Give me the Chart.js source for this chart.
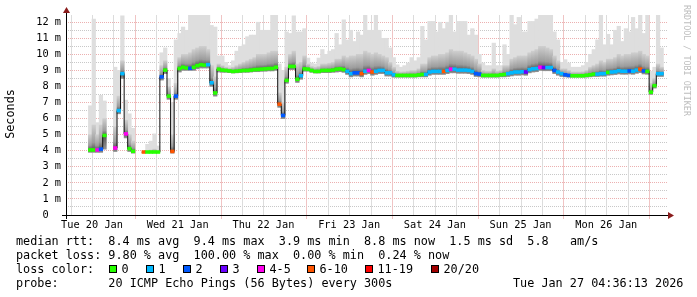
<!DOCTYPE html>
<html>
<head>
<meta charset="utf-8">
<script src="https://cdn.jsdelivr.net/npm/chart.js@4/dist/chart.umd.min.js"></script>
<style>
  html, body { margin: 0; padding: 0; background: #fff; }
  canvas { display: block; }
</style>
</head>
<body>
<canvas id="ping" width="697" height="297"></canvas>
<script>
// hourly slots, counted in hours after Tue 20 Jan 00:00
const firstHour = 11;
const viewStart = 5, viewEnd = 173;

const dayLabels = ['Tue 20 Jan', 'Wed 21 Jan', 'Thu 22 Jan', 'Fri 23 Jan', 'Sat 24 Jan', 'Sun 25 Jan', 'Mon 26 Jan'];
const yTickVals = [0, 1, 2, 3, 4, 5, 6, 7, 8, 9, 10, 11, 12];
const xGridHours = [6, 12, 18, 24, 30, 36, 42, 48, 54, 60, 66, 72, 78, 84, 90, 96, 102, 108, 114, 120, 126, 132, 138, 144, 150, 156, 162, 168];

const lossLabels = ['0', '1', '2', '3', '4-5', '6-10', '11-19', '20/20'];
const lossColors = ['#26ff00', '#00b8ff', '#0059ff', '#6a00ff', '#ff00ee', '#ff5500', '#ff0000', '#a10000'];

// median rtt per hour (ms)
const medianMs = [
  4.05, 4.05, 4.05, 4.10, 4.95, null, null, 4.17, 6.50, 8.80,
  5.05, 4.13, 3.97, null, null, 3.92, 3.92, 3.92, 3.92, 3.92,
  8.60, 9.02, 7.40, 3.96, 7.40, 9.12, 9.20, 9.15, 9.13, 9.20,
  9.30, 9.36, 9.33, 9.36, 8.23, 7.60, 9.08, 9.02, 9.00, 8.97,
  8.94, 8.96, 8.98, 9.00, 9.00, 9.02, 9.05, 9.06, 9.08, 9.10,
  9.12, 9.12, 9.20, 6.90, 6.20, 8.38, 9.25, 9.25, 8.45, 8.67,
  9.10, 9.08, 9.00, 8.94, 8.94, 9.00, 9.00, 9.00, 9.02, 9.08,
  9.10, 9.05, 8.94, 8.80, 8.85, 8.85, 8.80, 8.95, 9.00, 8.90,
  8.95, 9.00, 9.00, 8.85, 8.85, 8.73, 8.69, 8.69, 8.69, 8.69,
  8.69, 8.69, 8.72, 8.75, 8.75, 8.90, 8.94, 8.94, 8.94, 8.94,
  9.00, 9.08, 9.08, 9.02, 9.02, 9.02, 9.00, 8.94, 8.80, 8.77,
  8.69, 8.69, 8.69, 8.69, 8.69, 8.73, 8.75, 8.80, 8.85, 8.90,
  8.90, 8.92, 8.90, 9.05, 9.10, 9.12, 9.20, 9.18, 9.18, 9.18,
  9.00, 8.90, 8.80, 8.73, 8.69, 8.67, 8.67, 8.67, 8.67, 8.70,
  8.73, 8.77, 8.77, 8.80, 8.80, 8.88, 8.90, 8.92, 8.98, 8.95,
  8.95, 8.97, 8.95, 9.02, 9.08, 8.97, 8.94, 7.65, 8.05, 8.80,
  8.80
];

// loss bucket per hour (index into lossLabels)
const lossBucket = [
  0, 0, 4, 2, 0, 0, 0, 4, 1, 1,
  4, 0, 0, 0, 0, 5, 0, 0, 0, 0,
  2, 0, 0, 5, 2, 0, 0, 0, 2, 0,
  0, 0, 0, 1, 1, 0, 0, 0, 0, 0,
  0, 0, 0, 0, 0, 0, 0, 0, 0, 0,
  0, 0, 0, 5, 2, 0, 0, 0, 0, 1,
  0, 0, 0, 0, 0, 0, 0, 0, 0, 0,
  0, 0, 1, 1, 2, 2, 5, 1, 4, 5,
  1, 1, 1, 1, 1, 1, 0, 0, 0, 0,
  0, 0, 0, 0, 1, 1, 1, 1, 1, 5,
  1, 4, 1, 1, 1, 1, 1, 1, 2, 2,
  0, 0, 0, 0, 0, 0, 0, 1, 1, 1,
  1, 1, 3, 1, 1, 1, 4, 3, 1, 1,
  2, 1, 1, 2, 2, 0, 0, 0, 0, 0,
  0, 0, 1, 1, 1, 0, 1, 1, 1, 1,
  1, 2, 1, 1, 5, 2, 0, 0, 0, 1,
  1
];

// slowest ping per hour (ms)
const smokeTop = [
  6.80, 12.20, 5.75, 7.45, 7.10, null, null, 9.20, 9.00, 12.40,
  7.15, 6.30, 5.40, null, null, 3.97, 4.40, 4.60, 5.05, 4.30,
  10.10, 10.40, 8.50, 7.00, 10.90, 11.30, 11.70, 11.50, 12.50, 12.50,
  12.50, 12.50, 12.50, 12.50, 11.80, 11.70, 9.90, 9.90, 9.50, 9.30,
  9.60, 10.20, 10.50, 10.60, 11.10, 11.20, 11.20, 12.00, 11.50, 11.50,
  11.50, 12.47, 12.47, 9.40, 9.00, 11.40, 11.30, 12.40, 11.40, 11.40,
  11.60, 9.77, 9.46, 9.40, 9.77, 10.30, 10.00, 10.20, 10.30, 11.30,
  10.60, 12.15, 10.90, 11.50, 10.80, 11.40, 11.20, 12.47, 11.50, 11.50,
  12.47, 11.50, 11.00, 11.00, 10.40, 9.80, 9.35, 9.20, 9.30, 9.46,
  9.80, 9.60, 9.80, 11.74, 10.90, 12.05, 12.05, 11.40, 12.00, 11.60,
  12.00, 12.47, 11.40, 12.05, 12.05, 12.05, 11.20, 11.60, 11.20, 10.00,
  9.46, 9.30, 9.30, 10.70, 9.30, 9.30, 10.60, 10.00, 12.47, 11.85,
  12.30, 11.40, 11.40, 12.05, 12.05, 12.20, 12.47, 12.47, 12.47, 12.47,
  11.40, 10.90, 9.50, 9.67, 9.46, 9.20, 9.20, 9.20, 9.30, 9.50,
  10.00, 10.30, 10.90, 12.47, 10.60, 11.25, 10.60, 11.50, 11.75, 10.80,
  11.60, 11.40, 12.30, 11.60, 12.45, 11.30, 12.47, 8.95, 9.20, 12.47,
  10.40
];

// upper edge of the dense part of the smoke (ms)
const smokeUp = [
  5.00, 5.60, 5.00, 5.60, 6.00, null, null, 5.50, 7.40, 9.60,
  5.90, 5.00, 4.60, null, null, 3.95, 4.00, 4.05, 4.10, 4.00,
  9.30, 9.60, 8.00, 5.00, 8.20, 9.80, 10.00, 10.00, 10.10, 10.30,
  10.40, 10.50, 10.50, 10.30, 9.30, 8.60, 9.40, 9.30, 9.20, 9.15,
  9.20, 9.30, 9.40, 9.50, 9.60, 9.70, 9.80, 10.00, 10.00, 10.00,
  10.10, 10.20, 10.20, 7.60, 7.00, 9.20, 10.00, 10.20, 9.40, 9.50,
  9.90, 9.40, 9.25, 9.20, 9.25, 9.40, 9.40, 9.45, 9.50, 9.70,
  9.70, 9.90, 9.80, 9.90, 9.90, 10.00, 10.00, 10.20, 10.10, 10.00,
  10.10, 10.00, 9.90, 9.80, 9.50, 9.20, 8.95, 8.90, 8.92, 8.95,
  9.00, 9.00, 9.10, 9.40, 9.40, 9.80, 9.90, 9.90, 10.00, 10.00,
  10.10, 10.30, 10.20, 10.20, 10.20, 10.10, 10.00, 9.90, 9.70, 9.40,
  9.00, 8.95, 8.95, 9.10, 8.95, 9.00, 9.30, 9.30, 9.70, 9.80,
  9.90, 9.90, 9.90, 10.10, 10.20, 10.30, 10.50, 10.50, 10.40, 10.30,
  9.90, 9.60, 9.10, 9.10, 9.00, 8.90, 8.90, 8.90, 8.92, 9.00,
  9.20, 9.30, 9.40, 9.60, 9.50, 9.70, 9.70, 9.80, 10.00, 9.90,
  10.00, 10.00, 10.10, 10.10, 10.20, 10.00, 9.90, 8.20, 8.50, 9.40,
  9.20
];

// fastest ping per hour (ms)
const smokeLow = [
  3.90, 3.90, 3.90, 3.90, 4.10, null, null, 3.95, 6.30, 8.50,
  4.80, 3.95, 3.85, null, null, 3.88, 3.88, 3.88, 3.88, 3.88,
  8.40, 8.80, 7.20, 3.85, 7.20, 8.90, 9.00, 9.00, 9.00, 9.00,
  9.10, 9.15, 9.15, 9.15, 8.00, 7.40, 8.90, 8.88, 8.88, 8.86,
  8.84, 8.85, 8.86, 8.88, 8.88, 8.90, 8.92, 8.92, 8.94, 8.95,
  8.97, 8.97, 9.00, 6.70, 6.00, 8.20, 9.05, 9.05, 8.25, 8.45,
  8.95, 8.95, 8.88, 8.84, 8.84, 8.86, 8.86, 8.86, 8.88, 8.90,
  8.92, 8.88, 8.75, 8.60, 8.65, 8.65, 8.60, 8.75, 8.80, 8.70,
  8.75, 8.80, 8.80, 8.65, 8.65, 8.58, 8.58, 8.58, 8.58, 8.58,
  8.58, 8.58, 8.60, 8.60, 8.60, 8.70, 8.75, 8.75, 8.75, 8.75,
  8.80, 8.85, 8.85, 8.82, 8.82, 8.82, 8.80, 8.75, 8.62, 8.60,
  8.58, 8.58, 8.58, 8.58, 8.58, 8.60, 8.60, 8.62, 8.66, 8.70,
  8.70, 8.72, 8.70, 8.85, 8.90, 8.92, 9.00, 8.98, 8.98, 8.98,
  8.80, 8.70, 8.62, 8.60, 8.58, 8.58, 8.58, 8.58, 8.58, 8.58,
  8.60, 8.62, 8.62, 8.64, 8.64, 8.70, 8.72, 8.74, 8.78, 8.76,
  8.76, 8.78, 8.76, 8.82, 8.86, 8.78, 8.76, 7.50, 7.90, 8.62,
  8.62
];

const statRows = [
  'median rtt:  8.4 ms avg  9.4 ms max  3.9 ms min  8.8 ms now  1.5 ms sd  5.8   am/s',
  'packet loss: 9.80 % avg  100.00 % max  0.00 % min  0.24 % now'
];
const probeText = 'probe:       20 ICMP Echo Pings (56 Bytes) every 300s';
const stampText = 'Tue Jan 27 04:36:13 2026';

const MONO = '"DejaVu Sans Mono", monospace';
const GRID_RED = 'rgb(236,176,176)';
const GRID_GRAY = 'rgb(200,200,200)';
const VGRID_RED = 'rgb(240,196,196)';
const VGRID_GRAY = 'rgb(220,220,220)';

// slots that have data
const slots = medianMs.map((m, i) => ({ i, x: firstHour + i + 0.5 })).filter(s => medianMs[s.i] != null);

function coreFill(c) {
  const y = c.chart.scales && c.chart.scales.y;
  if (c.type !== 'data' || !c.raw || !y) return '#999';
  const k = c.raw.i;
  const pLow = y.getPixelForValue(smokeLow[k]);
  const pUp = y.getPixelForValue(smokeUp[k]);
  const pMed = y.getPixelForValue(medianMs[k]);
  if (![pLow, pUp, pMed].every(Number.isFinite)) return '#999';
  if (pLow - pUp < 1) return '#6e6e6e';
  const g = c.chart.ctx.createLinearGradient(0, pLow, 0, pUp);
  const t = Math.min(Math.max((pLow - pMed) / (pLow - pUp), 0), 1);
  g.addColorStop(0, '#939393');
  g.addColorStop(t, '#555555');
  g.addColorStop(t + (1 - t) * 0.3, '#9c9c9c');
  g.addColorStop(1, '#cecece');
  return g;
}

const barBase = { type: 'bar', grouped: false, barPercentage: 1, categoryPercentage: 1, borderWidth: 0 };

const isMidnight = h => h % 24 === 0;

const rrdFrame = {
  id: 'rrdFrame',
  beforeDatasetsDraw(chart) {
    const { ctx, chartArea: a, scales } = chart;
    ctx.save();
    // horizontal grid: every half ms, integer lines reddish, dotted
    for (let v = 0.5; v <= 12.01; v += 0.5) {
      const py = Math.floor(scales.y.getPixelForValue(v));
      ctx.fillStyle = Math.abs(v - Math.round(v)) < 0.01 ? GRID_RED : GRID_GRAY;
      for (let x = Math.ceil(a.left) + 1; x < a.right; x += 2) ctx.fillRect(x, py, 1, 1);
    }
    // vertical grid: every 6 hours, midnights reddish
    xGridHours.forEach(h => {
      const px = Math.round(scales.x.getPixelForValue(h));
      ctx.fillStyle = isMidnight(h) ? VGRID_RED : VGRID_GRAY;
      const yEnd = isMidnight(h) ? 219 : a.bottom;
      ctx.fillRect(px, Math.ceil(a.top), 1, yEnd - Math.ceil(a.top));
    });
    ctx.restore();
  },
  afterDraw(chart) {
    const { ctx, chartArea: a } = chart;
    ctx.save();
    // axes
    ctx.fillStyle = '#000';
    ctx.fillRect(62, 215, a.right - 62 + 2, 1);
    ctx.fillRect(66, 11, 1, 208);
    ctx.fillStyle = '#8a1c1c';
    ctx.beginPath();
    ctx.moveTo(66.5, 7); ctx.lineTo(63, 13); ctx.lineTo(70, 13); ctx.closePath(); ctx.fill();
    ctx.beginPath();
    ctx.moveTo(674, 215.5); ctx.lineTo(668, 212); ctx.lineTo(668, 219); ctx.closePath(); ctx.fill();

    // y title
    ctx.fillStyle = '#000';
    ctx.font = '11.8px ' + MONO;
    ctx.textAlign = 'center';
    ctx.textBaseline = 'middle';
    ctx.save();
    ctx.translate(11, 114);
    ctx.rotate(-Math.PI / 2);
    ctx.fillText('Seconds', 0, 0);
    ctx.restore();

    // watermark
    ctx.save();
    ctx.fillStyle = '#bdbdbd';
    ctx.font = '8.4px ' + MONO;
    ctx.textAlign = 'left';
    ctx.translate(686, 5);
    ctx.rotate(Math.PI / 2);
    ctx.fillText('RRDTOOL / TOBI OETIKER', 0, 0);
    ctx.restore();

    // legend rows
    ctx.fillStyle = '#000';
    ctx.textAlign = 'left';
    ctx.textBaseline = 'alphabetic';
    ctx.font = '11.8px ' + MONO;
    ctx.fillText(statRows[0], 16, 245);
    ctx.fillText(statRows[1], 16, 259);
    ctx.fillText('loss color:', 16, 273);
    const boxX = [108.5, 145.5, 182.5, 219.5, 256.5, 306.5, 365, 430.5];
    lossLabels.forEach((lab, k) => {
      const bx = Math.round(boxX[k]);
      ctx.fillStyle = lossColors[k];
      ctx.fillRect(bx, 265, 8, 8);
      ctx.strokeStyle = '#000';
      ctx.lineWidth = 1;
      ctx.strokeRect(bx + 0.5, 265.5, 7, 7);
      ctx.fillStyle = '#000';
      ctx.fillText(lab, bx + 12.5, 273);
    });
    ctx.fillText(probeText, 16, 287);
    ctx.fillText(stampText, 513, 287);
    ctx.restore();
  }
};

const chart = new Chart(document.getElementById('ping'), {
  data: {
    datasets: [
      {
        ...barBase, label: 'loss',
        data: slots.map(s => ({ x: s.x, y: [medianMs[s.i] - 0.09, medianMs[s.i] + 0.09] })),
        backgroundColor: slots.map(s => lossColors[lossBucket[s.i]]),
        order: 0
      },
      {
        type: 'line', label: 'median',
        data: medianMs.map((m, i) => ({ x: firstHour + i + 0.5, y: m })),
        borderColor: '#111', borderWidth: 1, stepped: 'middle',
        pointRadius: 0, spanGaps: false, fill: false,
        order: 1
      },
      {
        ...barBase, label: 'smoke core',
        data: slots.map(s => ({ x: s.x, y: [smokeLow[s.i], smokeUp[s.i]], i: s.i })),
        backgroundColor: coreFill,
        order: 3
      },
      {
        ...barBase, label: 'smoke',
        data: slots.map(s => ({ x: s.x, y: [smokeLow[s.i], smokeTop[s.i]] })),
        backgroundColor: '#dedede',
        order: 4
      }
    ]
  },
  options: {
    responsive: false,
    animation: false,
    devicePixelRatio: 1,
    layout: { padding: { left: 0, right: 30, top: 15, bottom: 0 } },
    plugins: { legend: { display: false }, tooltip: { enabled: false } },
    scales: {
      x: {
        type: 'linear', min: viewStart, max: viewEnd, offset: false,
        grid: { display: false, drawTicks: false, offset: false },
        border: { display: false },
        afterBuildTicks: s => { s.ticks = dayLabels.map((_, i) => ({ value: 12 + 24 * i })); },
        afterFit: s => { s.height = 82; },
        ticks: {
          autoSkip: false, maxRotation: 0, padding: 4, color: '#000',
          font: { family: MONO, size: 10.3 },
          callback: (v, i) => dayLabels[i]
        }
      },
      y: {
        type: 'linear', min: 0, max: 12.45,
        grid: { display: false, drawTicks: false }, border: { display: false },
        afterBuildTicks: s => { s.ticks = yTickVals.map(v => ({ value: v })); },
        afterFit: s => { s.width = 67; },
        ticks: {
          autoSkip: false, padding: 6, color: '#000',
          font: { family: MONO, size: 10.3 },
          callback: v => v === 0 ? ' 0  ' : String(v).padStart(2, ' ') + ' m'
        }
      }
    }
  },
  plugins: [rrdFrame]
});
chart.update();
</script>
</body>
</html>
